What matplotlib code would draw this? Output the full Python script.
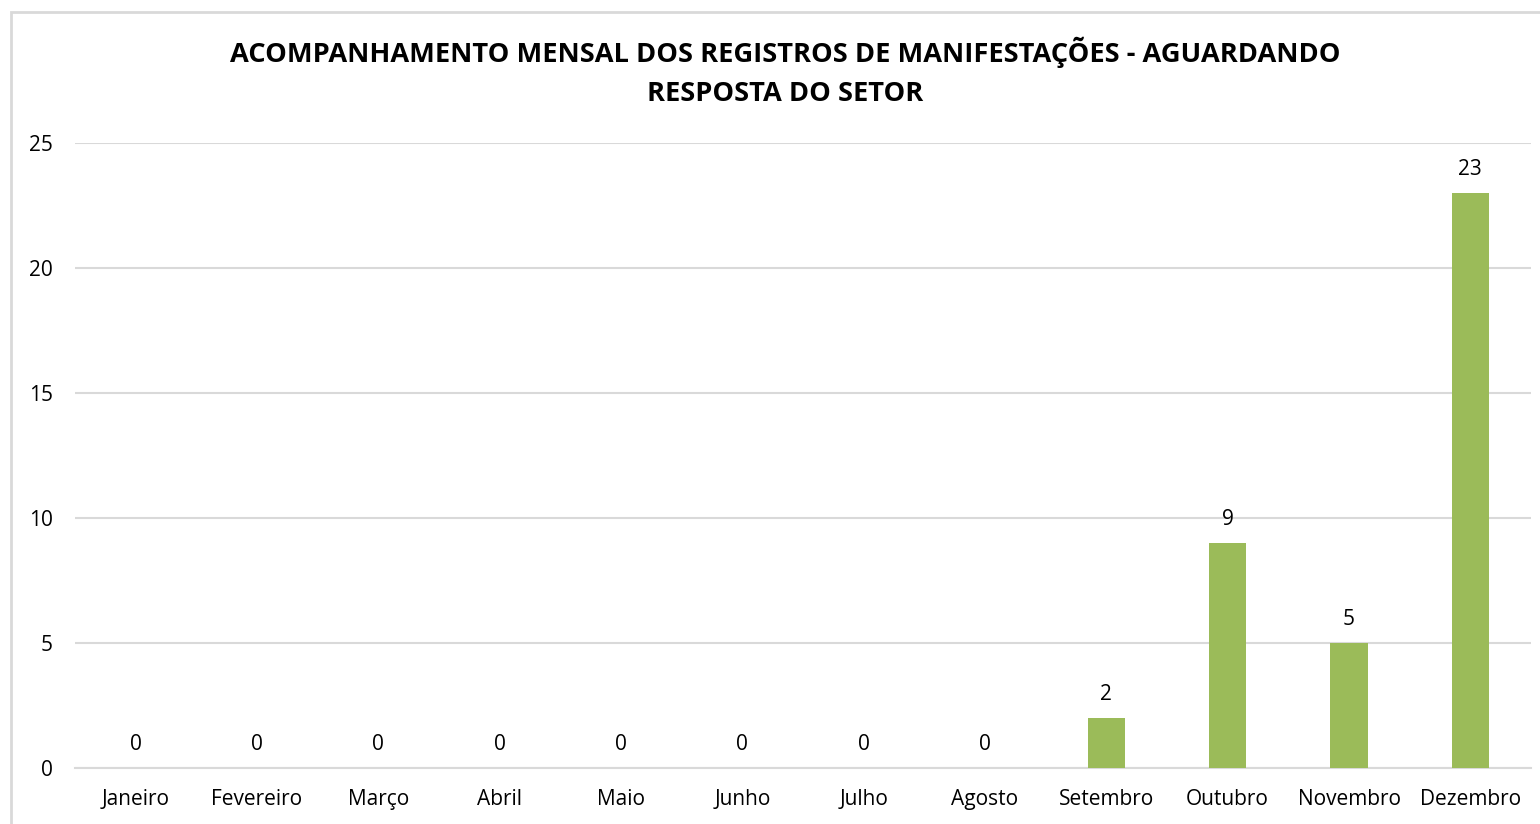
import matplotlib
matplotlib.use('Agg')
from matplotlib import pyplot as plt
from matplotlib.patches import Rectangle
import numpy as np

plt.rcParams['font.family'] = ['Open Sans', 'DejaVu Sans']

meses = ['Janeiro', 'Fevereiro', 'Março', 'Abril', 'Maio', 'Junho',
         'Julho', 'Agosto', 'Setembro', 'Outubro', 'Novembro', 'Dezembro']
valores = [0, 0, 0, 0, 0, 0, 0, 0, 2, 9, 5, 23]
yticks = [0, 5, 10, 15, 20, 25]
titulo = 'ACOMPANHAMENTO MENSAL DOS REGISTROS DE MANIFESTAÇÕES - AGUARDANDO\nRESPOSTA DO SETOR'

fig = plt.figure(figsize=(15.4, 8.24), dpi=100)
ax = fig.add_axes([75/1540, 56/824, (1531-75)/1540, (768-143)/824])

# moldura do grafico (cortada na direita e embaixo)
fig.patches.append(Rectangle((11/1540, -0.05), 1.1, (824-12)/824 + 0.05,
                             transform=fig.transFigure, fill=False,
                             edgecolor='#D9D9D9', linewidth=2))

x = np.arange(len(meses))
ax.bar(x, valores, width=0.31, color='#9BBB59', zorder=3)
for xi, v in zip(x, valores):
    ax.annotate(str(v), (xi, v), xytext=(0, 17), textcoords='offset points',
                ha='center', va='center', fontsize=15)

ax.set_xlim(-0.5, len(meses) - 0.5)
ax.set_ylim(0, 25)
ax.set_yticks(yticks)
ax.set_xticks(x)
ax.set_xticklabels(meses)
ax.tick_params(axis='both', length=0, labelsize=15)
ax.tick_params(axis='x', pad=15)
ax.tick_params(axis='y', pad=16)
ax.grid(axis='y', color='#D9D9D9', linewidth=1.5, zorder=0)
for s in ['top', 'right', 'left']:
    ax.spines[s].set_visible(False)
ax.spines['bottom'].set_color('#D9D9D9')
ax.spines['bottom'].set_linewidth(1.5)

fig.text(785/1540, 1 - 72/824, titulo, ha='center', va='center',
         fontsize=19.6, fontweight='bold', linespacing=1.62)

fig.savefig('out.png', dpi=100)
